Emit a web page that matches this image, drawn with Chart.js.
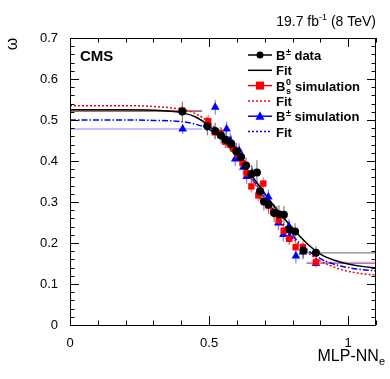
<!DOCTYPE html>
<html>
<head>
<meta charset="utf-8">
<script src="https://cdn.jsdelivr.net/npm/chart.js@4"></script>
<style>
  html, body { margin: 0; padding: 0; background: #fff; }
</style>
</head>
<body>
<canvas id="chart" width="390" height="379"></canvas>
<script>
// === Data ===
const blackX = [0.404, 0.494, 0.522, 0.543, 0.560, 0.580, 0.598, 0.615, 0.633, 0.652, 0.672, 0.683, 0.697, 0.714, 0.734, 0.751, 0.769, 0.789, 0.809, 0.839, 0.884];
const blackY = [0.521, 0.485, 0.473, 0.462, 0.452, 0.442, 0.424, 0.410, 0.389, 0.368, 0.372, 0.326, 0.301, 0.293, 0.273, 0.270, 0.269, 0.233, 0.228, 0.182, 0.176];
const blackErr = [0.024, 0.022, 0.020, 0.020, 0.020, 0.020, 0.020, 0.020, 0.020, 0.022, 0.030, 0.022, 0.022, 0.022, 0.022, 0.022, 0.022, 0.020, 0.020, 0.018, 0.016];

const redX = [0.403, 0.497, 0.520, 0.540, 0.558, 0.575, 0.588, 0.605, 0.620, 0.635, 0.652, 0.677, 0.695, 0.713, 0.731, 0.750, 0.768, 0.788, 0.811, 0.837, 0.884];
const redY = [0.523, 0.497, 0.470, 0.468, 0.447, 0.440, 0.430, 0.415, 0.395, 0.370, 0.338, 0.316, 0.345, 0.292, 0.276, 0.255, 0.230, 0.210, 0.190, 0.190, 0.153];
const redErr = [0.012, 0.015, 0.015, 0.015, 0.015, 0.015, 0.015, 0.015, 0.015, 0.015, 0.015, 0.015, 0.015, 0.015, 0.015, 0.015, 0.015, 0.015, 0.015, 0.015, 0.010];

const blueX = [0.405, 0.492, 0.522, 0.545, 0.563, 0.576, 0.594, 0.608, 0.623, 0.635, 0.655, 0.689, 0.707, 0.713, 0.743, 0.749, 0.767, 0.787, 0.789, 0.812, 0.837, 0.884];
const blueY = [0.478, 0.490, 0.531, 0.462, 0.478, 0.450, 0.405, 0.425, 0.385, 0.362, 0.370, 0.325, 0.300, 0.312, 0.272, 0.249, 0.221, 0.240, 0.215, 0.168, 0.178, 0.150];
const blueErr = [0.012, 0.018, 0.018, 0.018, 0.018, 0.018, 0.018, 0.018, 0.018, 0.018, 0.018, 0.018, 0.018, 0.018, 0.018, 0.018, 0.018, 0.018, 0.018, 0.018, 0.018, 0.010];

// outer bins are wide, inner bins narrow
const firstBin = [0, 0.475];
const lastBin = [0.85, 1.1];
const binHalf = 0.008;

// fit curves
const fitX = [0, 0.2, 0.3, 0.4, 0.45, 0.5, 0.55, 0.6, 0.65, 0.7, 0.75, 0.8, 0.85, 0.9, 0.95, 1.0, 1.05, 1.1];
const blackFitY = [0.525, 0.525, 0.524, 0.518, 0.508, 0.486, 0.452, 0.412, 0.368, 0.320, 0.276, 0.236, 0.200, 0.173, 0.158, 0.149, 0.143, 0.139];
const redFitY = [0.535, 0.535, 0.533, 0.526, 0.516, 0.494, 0.458, 0.412, 0.360, 0.306, 0.257, 0.213, 0.179, 0.156, 0.141, 0.131, 0.125, 0.122];
const blueFitY = [0.500, 0.500, 0.499, 0.496, 0.490, 0.477, 0.450, 0.410, 0.362, 0.311, 0.262, 0.218, 0.185, 0.162, 0.148, 0.140, 0.135, 0.132];

const xTicks = [0, 0.5, 1];
const FONT = "'Liberation Sans', Arial, Helvetica, sans-serif";

const pts = (xs, ys) => xs.map((x, i) => ({ x: x, y: ys[i] }));

// === Error bars ===
const errorBars = {
  id: "errorBars",
  beforeDatasetsDraw(chart) {
    const ctx = chart.ctx, xs = chart.scales.x, ys = chart.scales.y;
    chart.data.datasets.forEach((ds, di) => {
      if (!ds.errY) return;
      const n = ds.data.length;
      ctx.save();
      ctx.strokeStyle = ds.errColor;
      ctx.lineWidth = 1.2;
      ds.data.forEach((p, i) => {
        let lo = p.x - binHalf, hi = p.x + binHalf;
        if (i === 0) { lo = firstBin[0]; hi = firstBin[1]; }
        if (i === n - 1) { lo = lastBin[0]; hi = lastBin[1]; }
        const px = xs.getPixelForValue(p.x), py = ys.getPixelForValue(p.y);
        ctx.beginPath();
        ctx.moveTo(xs.getPixelForValue(lo), py);
        ctx.lineTo(xs.getPixelForValue(hi), py);
        ctx.moveTo(px, ys.getPixelForValue(p.y - ds.errY[i]));
        ctx.lineTo(px, ys.getPixelForValue(p.y + ds.errY[i]));
        ctx.stroke();
      });
      ctx.restore();
    });
  }
};

// === Frame, inside ticks, texts and legend ===
const decorations = {
  id: "decorations",
  afterDraw(chart) {
    const ctx = chart.ctx, a = chart.chartArea;
    const xs = chart.scales.x, ys = chart.scales.y;
    ctx.save();
    ctx.strokeStyle = "#000";
    ctx.lineWidth = 1;
    ctx.strokeRect(a.left + 0.5, a.top + 0.5, a.right - a.left - 1, a.bottom - a.top);

    ctx.beginPath();
    for (let k = 0; k <= 11; k++) {
      const v = k / 10, px = Math.round(xs.getPixelForValue(v)) + 0.5;
      const len = (k % 5 === 0) ? 9 : 4.5;
      ctx.moveTo(px, a.bottom); ctx.lineTo(px, a.bottom - len);
      ctx.moveTo(px, a.top); ctx.lineTo(px, a.top + len);
    }
    for (let k = 0; k <= 35; k++) {
      const v = k / 50, py = Math.round(ys.getPixelForValue(v)) + 0.5;
      const len = (k % 5 === 0) ? 9 : 4.5;
      ctx.moveTo(a.left, py); ctx.lineTo(a.left + len, py);
      ctx.moveTo(a.right, py); ctx.lineTo(a.right - len, py);
    }
    ctx.stroke();

    ctx.fillStyle = "#000";
    ctx.textBaseline = "alphabetic";

    // CMS label
    ctx.font = "bold 15px " + FONT;
    ctx.textAlign = "left";
    ctx.fillText("CMS", 80, 61);

    // lumi text
    ctx.textAlign = "left";
    const t1 = "19.7 fb", t2 = "-1", t3 = " (8 TeV)";
    ctx.font = "14px " + FONT; const w1 = ctx.measureText(t1).width, w3 = ctx.measureText(t3).width;
    ctx.font = "9px " + FONT; const w2 = ctx.measureText(t2).width;
    let x0 = a.right - (w1 + w2 + w3);
    ctx.font = "14px " + FONT; ctx.fillText(t1, x0, 26);
    ctx.font = "9px " + FONT; ctx.fillText(t2, x0 + w1, 20);
    ctx.font = "14px " + FONT; ctx.fillText(t3, x0 + w1 + w2, 26);

    // x title
    ctx.font = "16px " + FONT;
    const xt = "MLP-NN";
    const wx = ctx.measureText(xt).width;
    ctx.font = "11px " + FONT;
    const we = ctx.measureText("e").width;
    const xx = 385 - wx - we;
    ctx.font = "16px " + FONT; ctx.fillText(xt, xx, 361);
    ctx.font = "11px " + FONT; ctx.fillText("e", xx + wx, 365);

    // y title
    ctx.save();
    ctx.translate(17, 44);
    ctx.rotate(-Math.PI / 2);
    ctx.font = "16px " + FONT;
    ctx.textAlign = "center";
    ctx.fillText("\u03c9", 0, 0);
    ctx.restore();

    // legend
    const rows = [
      { color: "#000", marker: "circle", dash: [], label: [["B", 0], ["\u00b1", 1], [" data", 0]] },
      { color: "#000", marker: null, dash: [], label: [["Fit", 0]] },
      { color: "#ff0000", marker: "rect", dash: [], label: [["B", 0], ["s0", 2], [" simulation", 0]] },
      { color: "#ff0000", marker: null, dash: [2, 2], label: [["Fit", 0]] },
      { color: "#0000ff", marker: "triangle", dash: [], label: [["B", 0], ["\u00b1", 1], [" simulation", 0]] },
      { color: "#0000ff", marker: null, dash: [2, 2], label: [["Fit", 0]] }
    ];
    rows.forEach((r, i) => {
      const y = 55 + i * 15.3;
      ctx.save();
      ctx.strokeStyle = r.color;
      ctx.lineWidth = 1.5;
      ctx.setLineDash(r.dash);
      ctx.beginPath(); ctx.moveTo(248, y); ctx.lineTo(272, y); ctx.stroke();
      ctx.setLineDash([]);
      ctx.fillStyle = r.color;
      if (r.marker === "circle") { ctx.beginPath(); ctx.arc(260, y, 3.5, 0, Math.PI * 2); ctx.fill(); }
      if (r.marker === "rect") { ctx.fillRect(256, y - 4, 8, 8); }
      if (r.marker === "triangle") { ctx.beginPath(); ctx.moveTo(260, y - 5); ctx.lineTo(264.5, y + 3.5); ctx.lineTo(255.5, y + 3.5); ctx.closePath(); ctx.fill(); }
      ctx.restore();

      let tx = 276;
      ctx.fillStyle = "#000";
      ctx.textAlign = "left";
      r.label.forEach(([s, kind]) => {
        if (kind === 0) {
          ctx.font = "bold 13px " + FONT;
          ctx.fillText(s, tx, y + 5);
          tx += ctx.measureText(s).width;
        } else if (kind === 1) {
          ctx.font = "bold 9px " + FONT;
          ctx.fillText(s, tx + 0.5, y - 0.5);
          tx += ctx.measureText(s).width + 0.5;
        } else {
          ctx.font = "bold 9px " + FONT;
          ctx.fillText(s[1], tx + 0.5, y - 0.5);
          ctx.fillText(s[0], tx + 0.5, y + 8);
          tx += ctx.measureText(s[0]).width + 1;
        }
      });
    });
    ctx.restore();
  }
};

new Chart(document.getElementById("chart"), {
  type: "scatter",
  data: {
    datasets: [
      { type: "line", data: pts(fitX, blackFitY), borderColor: "#000", borderWidth: 1.5, pointRadius: 0, fill: false, cubicInterpolationMode: "monotone", order: 5 },
      { type: "line", data: pts(fitX, redFitY), borderColor: "#ff0000", borderWidth: 1.5, borderDash: [2, 2], pointRadius: 0, fill: false, cubicInterpolationMode: "monotone", order: 5 },
      { type: "line", data: pts(fitX, blueFitY), borderColor: "#0000ff", borderWidth: 1.5, borderDash: [6, 2, 1.5, 2], pointRadius: 0, fill: false, cubicInterpolationMode: "monotone", order: 5 },
      { label: "B+- simulation", data: pts(blueX, blueY), errY: blueErr, errColor: "rgba(90,90,255,0.75)", pointStyle: "triangle", pointRadius: 5, backgroundColor: "#0000ff", borderColor: "#0000ff", borderWidth: 0, order: 3 },
      { label: "Bs0 simulation", data: pts(redX, redY), errY: redErr, errColor: "rgba(255,80,80,0.75)", pointStyle: "rect", pointRadius: 4.5, backgroundColor: "#ff0000", borderColor: "#ff0000", borderWidth: 0, order: 2 },
      { label: "B+- data", data: pts(blackX, blackY), errY: blackErr, errColor: "rgba(110,110,110,0.85)", pointStyle: "circle", pointRadius: 4, backgroundColor: "#000", borderColor: "#000", borderWidth: 0, order: 1 }
    ]
  },
  options: {
    responsive: false,
    animation: false,
    devicePixelRatio: 1,
    layout: { padding: { left: 0, right: 14, top: 38, bottom: 0 } },
    plugins: { legend: { display: false }, tooltip: { enabled: false } },
    scales: {
      x: {
        type: "linear", min: 0, max: 1.1,
        grid: { display: false }, border: { display: false },
        afterBuildTicks: s => { s.ticks = xTicks.map(v => ({ value: v })); },
        afterFit: s => { s.height = 54; },
        ticks: { color: "#000", font: { family: FONT, size: 13 }, padding: 3, maxRotation: 0, callback: v => String(+v) }
      },
      y: {
        type: "linear", min: 0, max: 0.7,
        grid: { display: false }, border: { display: false },
        afterFit: s => { s.width = 70; },
        ticks: { stepSize: 0.1, color: "#000", font: { family: FONT, size: 13 }, padding: 4 }
      }
    }
  },
  plugins: [errorBars, decorations]
});
</script>
</body>
</html>
